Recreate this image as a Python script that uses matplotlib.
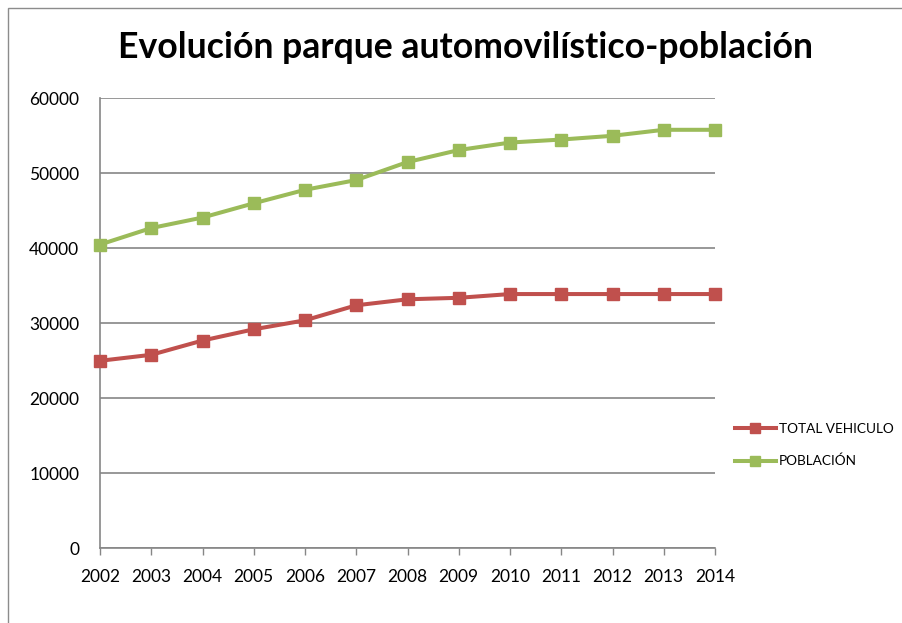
import matplotlib
matplotlib.use("Agg")
import matplotlib.pyplot as plt
from matplotlib.patches import Rectangle

years = [2002, 2003, 2004, 2005, 2006, 2007, 2008, 2009, 2010, 2011, 2012, 2013, 2014]
total_vehiculo = [25000, 25800, 27700, 29200, 30400, 32400, 33200, 33400, 33900, 33900, 33900, 33900, 33900]
poblacion = [40500, 42700, 44100, 46000, 47800, 49100, 51500, 53100, 54100, 54500, 55000, 55800, 55800]
y_ticks = [0, 10000, 20000, 30000, 40000, 50000, 60000]

plt.rcParams['font.family'] = ['Lato', 'DejaVu Sans']

fig = plt.figure(figsize=(9.03, 6.23), dpi=100)
ax = fig.add_axes([100 / 903, 1 - 548.3 / 623, 615 / 903, 450 / 623])

# outer chart border (extends past the image on right/bottom)
fig.patches.append(Rectangle((8 / 903, -0.2), 1.5, 1.2 - 8 / 623,
                             transform=fig.transFigure, fill=False,
                             edgecolor='#8c8c8c', linewidth=1.0))

ax.plot(years, total_vehiculo, color='#C0504D', linewidth=2.9, marker='s',
        markersize=9, label='TOTAL VEHICULO', clip_on=False, zorder=3)
ax.plot(years, poblacion, color='#9BBB59', linewidth=2.9, marker='s',
        markersize=9, label='POBLACIÓN', clip_on=False, zorder=3)

ax.set_xlim(2002, 2014)
ax.set_ylim(0, 60000)
ax.set_xticks(years)
ax.set_xticklabels([str(y) for y in years])
ax.set_yticks(y_ticks)
ax.set_yticklabels([str(v) for v in y_ticks])

ax.grid(axis='y', color='#868686', linewidth=1.2)
ax.set_axisbelow(True)
for s in ['top', 'right']:
    ax.spines[s].set_visible(False)
for s in ['left', 'bottom']:
    ax.spines[s].set_color('#868686')
    ax.spines[s].set_linewidth(1.2)

ax.tick_params(axis='y', length=0, pad=15, labelsize=12.5)
ax.tick_params(axis='x', length=5, color='#868686', width=1.0, pad=10, labelsize=12.5)

fig.text(465 / 903, 1 - 47 / 623, 'Evolución parque automovilístico-población',
         ha='center', va='center', fontsize=25.7, fontweight='bold')

ax.legend(loc='center left', bbox_to_anchor=(735 / 903, 1 - 445 / 623),
          bbox_transform=fig.transFigure, frameon=False, fontsize=9.8,
          handlelength=3.0, labelspacing=1.5, handletextpad=0.2,
          markerscale=0.8, borderaxespad=0, borderpad=0)

fig.savefig('out.png', dpi=100)
